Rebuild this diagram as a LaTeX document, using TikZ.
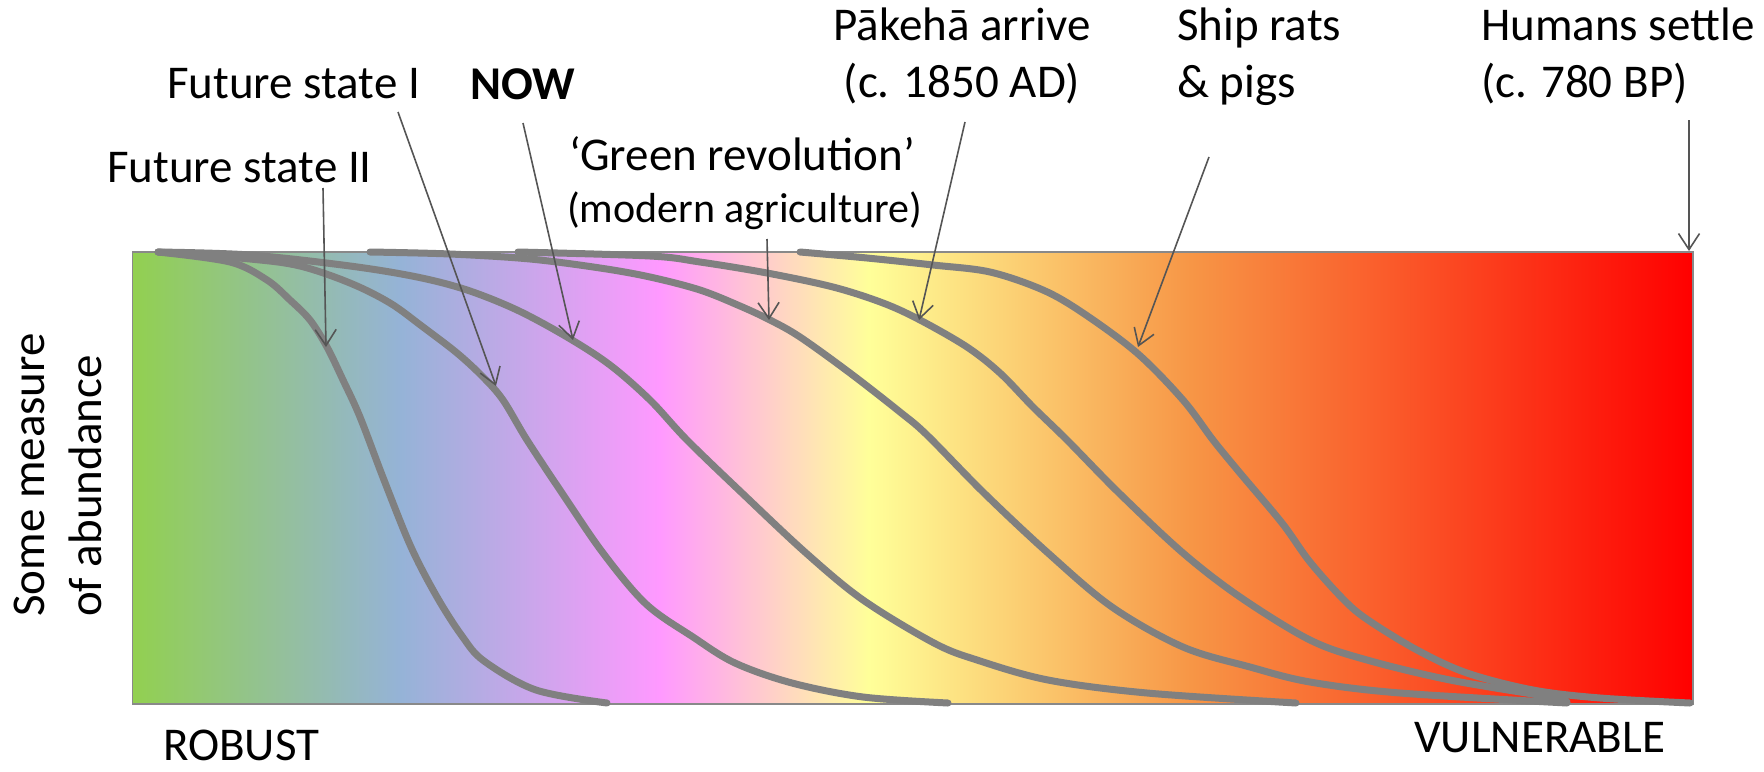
\documentclass[tikz,border=0pt]{standalone}
\usepackage{fontspec}
\setmainfont{Carlito}
\usetikzlibrary{arrows.meta}
\definecolor{cGreen}{RGB}{146,208,80}
\definecolor{cBlue}{RGB}{149,179,215}
\definecolor{cPink}{RGB}{255,153,255}
\definecolor{cYellow}{RGB}{255,255,153}
\definecolor{cOrange}{RGB}{247,150,70}
\definecolor{cRed}{RGB}{255,0,0}
\definecolor{curvegray}{RGB}{128,128,128}
\definecolor{arrowgray}{RGB}{85,85,85}
\definecolor{framegray}{RGB}{137,137,137}
\pgfdeclarehorizontalshading{abund}{100bp}{color(0bp)=(cGreen); color(25bp)=(cGreen); color(33.6bp)=(cBlue); color(41.9bp)=(cPink); color(48.6bp)=(cYellow); color(58.9bp)=(cOrange); color(75bp)=(cRed); color(100bp)=(cRed)}
\newcommand{\lblfont}{\fontsize{47}{57}\selectfont}
\newcommand{\lblsmall}{\fontsize{42}{50}\selectfont}
\begin{document}
\begin{tikzpicture}[x=1pt,y=-1pt,
  lbl/.style={font=\lblfont, inner sep=0pt, text=black},
  lbls/.style={font=\lblsmall, inner sep=0pt, text=black},
  curve/.style={draw=curvegray, line width=7pt, line cap=round, line join=round},
  pointer/.style={draw=arrowgray, line width=1.6pt, -{Straight Barb[length=16pt,width=21pt,line width=1.6pt]}}]
\useasboundingbox (0,0) rectangle (1764,771);
\node[shade, shading=abund, draw=framegray, line width=1.5pt, inner sep=0pt,
      minimum width=1560.5pt, minimum height=452pt, anchor=north west] (panel) at (131.5,251) {};
% curves
\draw[curve] plot[smooth, tension=0.55] coordinates {(158,252) (230,262) (267,280) (290,300) (310,320) (327,347) (343,380) (360,417) (384,480) (411,547) (437,597) (462,636) (484,661) (536,690) (607,703)};
\draw[curve] plot[smooth, tension=0.55] coordinates {(158,252) (250,259) (300,266) (350,283) (390,303) (423,327) (457,353) (483,377) (503,400) (527,440) (562,493) (603,553) (646,604) (693,637) (735,663) (792,683) (863,697) (948,703)};
\draw[curve] plot[smooth, tension=0.55] coordinates {(158,252) (250,255) (350,266) (417,277) (467,290) (517,310) (567,337) (610,365) (650,400) (687,440) (742,493) (806,553) (863,600) (934,643) (977,660) (1048,680) (1147,693) (1296,703)};
\draw[curve] plot[smooth, tension=0.55] coordinates {(370,252) (450,254) (530,259) (600,268) (650,277) (700,290) (740,306) (770,320) (800,337) (850,373) (900,412) (927,435) (984,493) (1048,553) (1112,607) (1183,647) (1250,667) (1310,682) (1400,693) (1567,703)};
\draw[curve] plot[smooth, tension=0.55] coordinates {(518,252) (650,256) (700,262) (767,273) (833,287) (883,303) (920,320) (967,347) (1000,373) (1033,407) (1067,440) (1119,493) (1183,553) (1240,597) (1310,640) (1367,660) (1450,680) (1550,697) (1567,702)};
\draw[curve] plot[smooth, tension=0.55] coordinates {(800,252) (867,258) (933,265) (990,272) (1043,290) (1083,313) (1137,353) (1183,400) (1213,440) (1240,473) (1282,523) (1310,562) (1344,600) (1368,620) (1417,650) (1467,673) (1533,690) (1600,698) (1690,703)};
% labels
\node[lbl, anchor=base west] (fs2) at (107,182) {Future state II};
\node[lbl, anchor=base west] (fs1) at (167,98) {Future state I};
\node[lbl, anchor=base west, font=\lblfont\bfseries] (now) at (470,99) {NOW};
\node[lbl, anchor=base west] (green) at (569,170) {‘Green revolution’};
\node[lbls, anchor=base west] (agri) at (567,222) {(modern agriculture)};
\node[lbl, align=center, anchor=base] (pakeha) at (962,97) {Pākehā arrive\\(c. 1850 AD)};
\node[lbl, align=left, anchor=base west] (rats) at (1177,97) {Ship rats\\\& pigs};
\node[lbl, align=left, anchor=base west] (humans) at (1481,97) {Humans settle\\(c. 780 BP)};
\node[lbl, align=left, rotate=90, anchor=north west] (abund) at (14,617) {Some measure\\of abundance};
\node[lbl, anchor=base west] (robust) at (163,760) {ROBUST};
\node[lbl, anchor=base west] (vuln) at (1414,752) {VULNERABLE};
% arrow tips on the curves
\coordinate (tA) at (326,347);
\coordinate (tB) at (496,386);
\coordinate (tC) at (573,340);
\coordinate (tD) at (769,320);
\coordinate (tE) at (919,320);
\coordinate (tF) at (1138,347);
\coordinate (tH) at (1689,251);
% pointers
\draw[pointer] ([xshift=216pt,yshift=-6pt]fs2.base west) -- (tA);
\draw[pointer] ([xshift=231pt,yshift=-14pt]fs1.base west) -- (tB);
\draw[pointer] ([xshift=53pt,yshift=-24pt]now.base west) -- (tC);
\draw[pointer] ([xshift=200pt,yshift=-17pt]agri.base west) -- (tD);
\draw[pointer] ([xshift=3pt,yshift=-25pt]pakeha.base) -- (tE);
\draw[pointer] ([xshift=32pt,yshift=-60pt]rats.base west) -- (tF);
\draw[pointer] ([xshift=208pt,yshift=-23pt]humans.base west) -- (tH);
\end{tikzpicture}
\end{document}
